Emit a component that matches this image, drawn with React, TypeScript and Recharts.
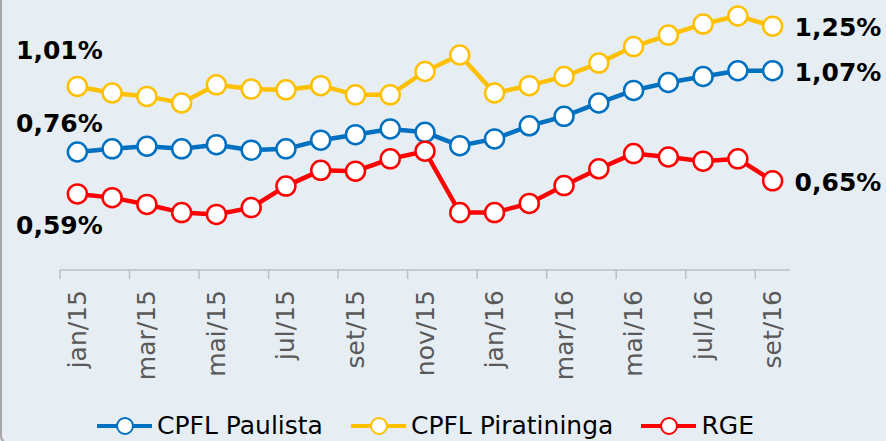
import React from 'react';
import { LineChart, Line, XAxis, YAxis, Legend } from 'recharts';

const months = [
  'jan/15', 'fev/15', 'mar/15', 'abr/15', 'mai/15', 'jun/15', 'jul/15', 'ago/15', 'set/15', 'out/15', 'nov/15', 'dez/15',
  'jan/16', 'fev/16', 'mar/16', 'abr/16', 'mai/16', 'jun/16', 'jul/16', 'ago/16', 'set/16',
];

const paulista = [0.76, 0.772, 0.782, 0.772, 0.788, 0.767, 0.772, 0.805, 0.826, 0.848, 0.835, 0.784, 0.81, 0.86, 0.896, 0.947, 0.995, 1.025, 1.048, 1.07, 1.07];
const piratininga = [1.01, 0.985, 0.972, 0.947, 1.016, 1.0, 0.997, 1.013, 0.978, 0.978, 1.067, 1.13, 0.985, 1.013, 1.048, 1.099, 1.162, 1.206, 1.248, 1.279, 1.24];
const rge = [0.6, 0.586, 0.56, 0.529, 0.522, 0.548, 0.63, 0.69, 0.687, 0.734, 0.763, 0.529, 0.529, 0.564, 0.632, 0.696, 0.754, 0.741, 0.725, 0.734, 0.65];

const seriesKeys = ['paulista', 'piratininga', 'rge'];
const seriesNames = ['CPFL Paulista', 'CPFL Piratininga', 'RGE'];
const seriesColors = ['#0070c0', '#ffc000', '#ff0000'];
const startLabels = ['0,76%', '1,01%', '0,59%'];
const endLabels = ['1,07%', '1,25%', '0,65%'];
const startLabelDy = [-20, -27, 40];

const data = months.map((m, i) => ({ month: m, paulista: paulista[i], piratininga: piratininga[i], rge: rge[i] }));

const W = 886;
const H = 441;
const ML = 60;
const MR = 96;
const HALF_BAND = (W - ML - MR) / months.length / 2;
const FONT = '"DejaVu Sans", Verdana, sans-serif';

const makeDot = (s: number) => (props: any) => {
  const { cx, cy, index } = props;
  const color = seriesColors[s];
  const last = months.length - 1;
  return (
    <g key={`dot-${s}-${index}`}>
      <circle cx={cx} cy={cy} r={9.5} fill="#fff" stroke={color} strokeWidth={2.5} />
      {index === 0 && (
        <text x={cx - 18} y={cy + startLabelDy[s]} textAnchor="middle" fontFamily={FONT} fontWeight="bold" fontSize={25} fill="#000">
          {startLabels[s]}
        </text>
      )}
      {index === last && (
        <text x={cx + 22} y={cy + 10} textAnchor="start" fontFamily={FONT} fontWeight="bold" fontSize={25} fill="#000">
          {endLabels[s]}
        </text>
      )}
    </g>
  );
};

const Tick = (props: any) => {
  const { x, y, payload } = props;
  const ty = y + 20;
  return (
    <g>
      <line x1={x - HALF_BAND} x2={x - HALF_BAND} y1={y} y2={y + 9} stroke="#bfbfbf" strokeWidth={1.5} />
      <text
        x={x}
        y={ty}
        transform={`rotate(-90 ${x} ${ty})`}
        textAnchor="end"
        dominantBaseline="central"
        fill="#595959"
        fontSize={25}
        fontFamily={FONT}
      >
        {payload.value}
      </text>
    </g>
  );
};

const LegendContent = () => (
  <div
    style={{
      height: 36,
      display: 'flex',
      alignItems: 'center',
      paddingLeft: 97,
      paddingTop: 5,
      boxSizing: 'border-box',
      fontFamily: FONT,
      fontSize: 25,
      color: '#000',
      whiteSpace: 'nowrap',
    }}
  >
    {seriesNames.map((n, i) => (
      <div key={n} style={{ display: 'flex', alignItems: 'center', marginRight: 28 }}>
        <svg width={55} height={20} style={{ display: 'block' }}>
          <line x1={0} x2={55} y1={10} y2={10} stroke={seriesColors[i]} strokeWidth={4} />
          <circle cx={28} cy={10} r={8} fill="#fff" stroke={seriesColors[i]} strokeWidth={2} />
        </svg>
        <span style={{ marginLeft: 5 }}>{n}</span>
      </div>
    ))}
  </div>
);

export default function App() {
  return (
    <div style={{ position: 'fixed', left: 0, top: 0, width: W, height: H, overflow: 'hidden', background: '#e6eef4' }}>
      <div
        style={{
          position: 'absolute',
          left: 0,
          top: -12,
          width: W + 20,
          height: H + 15,
          border: '2.5px solid #a6a6a6',
          borderRadius: 8,
          boxSizing: 'border-box',
        }}
      />
      <div style={{ position: 'absolute', left: 0, top: 0 }}>
        <LineChart width={W} height={H} data={data} margin={{ top: 10.4, right: MR, bottom: 0, left: ML }}>
          <XAxis
            dataKey="month"
            scale="point"
            padding={{ left: HALF_BAND, right: HALF_BAND }}
            interval={1}
            tickLine={false}
            tickSize={0}
            tickMargin={0}
            height={135}
            axisLine={{ stroke: '#bfbfbf', strokeWidth: 1.5 }}
            tick={<Tick />}
          />
          <YAxis hide domain={[0.31, 1.3]} />
          <Legend verticalAlign="bottom" wrapperStyle={{ left: 0, width: W, bottom: 0 }} content={() => <LegendContent />} />
          {seriesKeys.map((k, s) => (
            <Line
              key={k}
              type="linear"
              dataKey={k}
              name={seriesNames[s]}
              stroke={seriesColors[s]}
              strokeWidth={4.5}
              dot={makeDot(s)}
              activeDot={false}
              isAnimationActive={false}
            />
          ))}
        </LineChart>
      </div>
    </div>
  );
}
